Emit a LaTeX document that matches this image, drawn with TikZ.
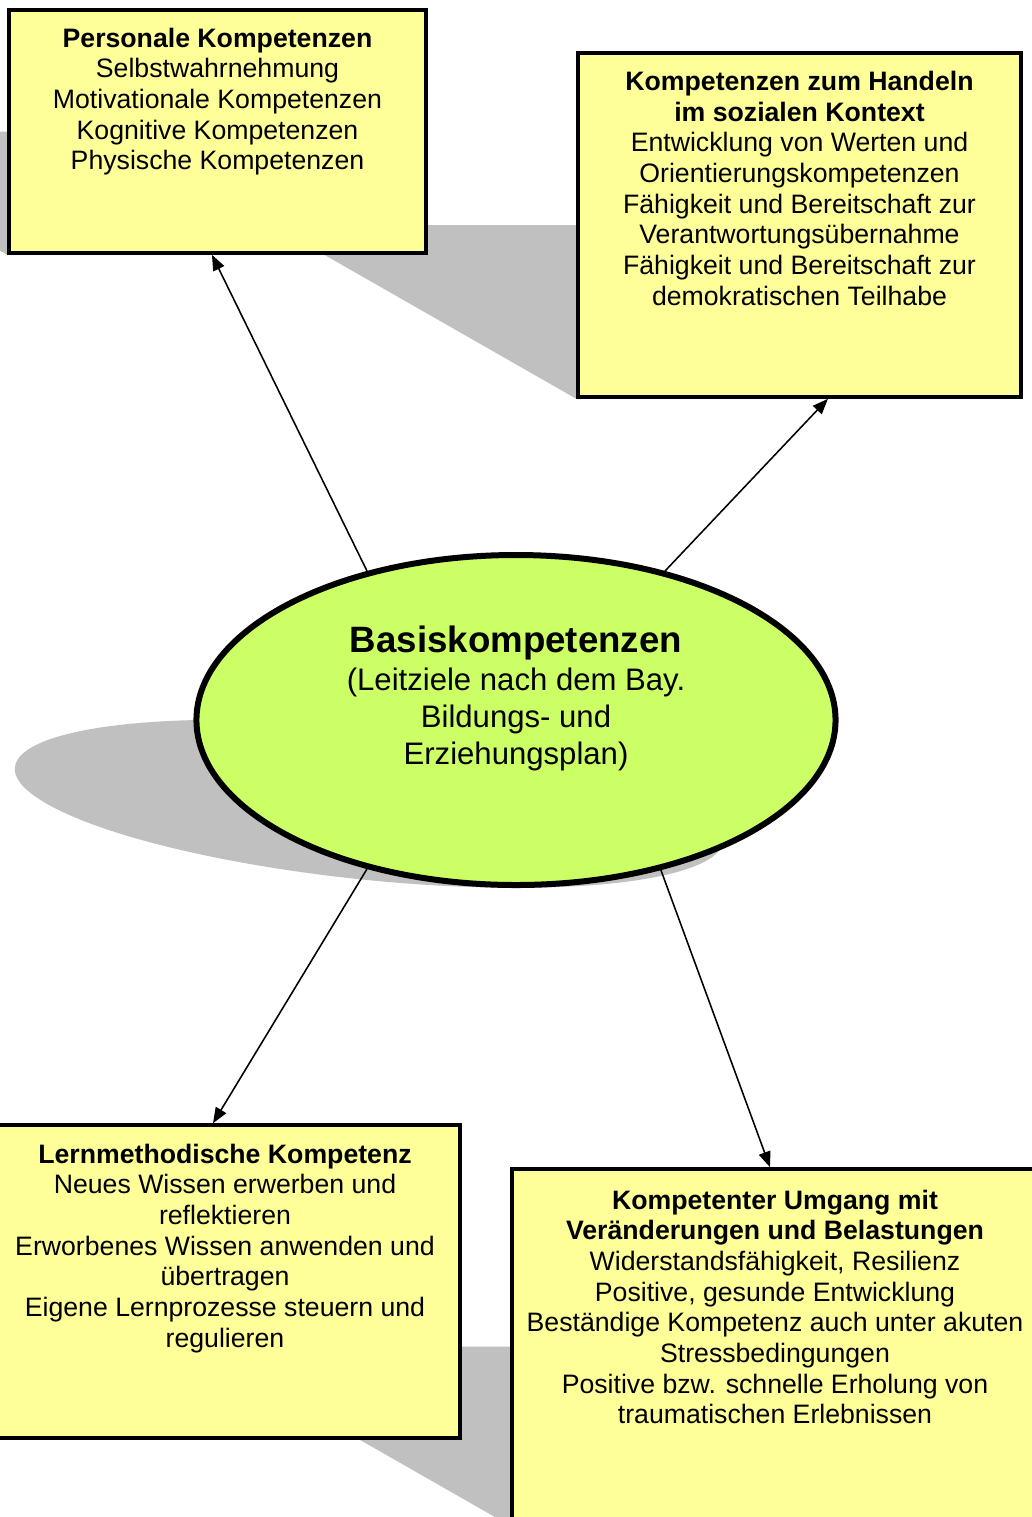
\documentclass[tikz,border=0pt]{standalone}
\usepackage{fontspec}
\setmainfont{Liberation Sans}
\usetikzlibrary{arrows.meta,shapes.geometric}
\definecolor{boxyellow}{HTML}{FFFF99}
\definecolor{ellgreen}{HTML}{CCFF66}
\definecolor{shadowgray}{HTML}{C0C0C0}
\newcommand{\boxtext}[4]{\parbox[c][#2][t]{#1}{\centering\fontsize{12}{13.8}\selectfont\rule{0pt}{#3}#4}}
\begin{document}
\begin{tikzpicture}[x=0.45pt,y=-0.45pt,
  kbox/.style={draw=black,fill=boxyellow,line width=1.6pt,inner sep=0pt},
  ell/.style={ellipse,draw=black,fill=ellgreen,line width=2.7pt,inner sep=0pt,
    minimum width=287.6pt,minimum height=148.5pt},
  arr/.style={line width=0.7pt,-{Triangle[length=7pt,width=5.4pt]}},
  persp/.style={shadowgray,cm={1,0,-0.875,0.5,(-0.875*#1,0.5*#1)}}]
\useasboundingbox (0,0) rectangle (1032,1517);
\fill[white] (0,0) rectangle (1032,1517);
% perspective shadows
\fill[persp=254.75] (7.25,8.25) -- (427.75,8.25) -- (427.75,254.75) -- (7.25,254.75) -- cycle;
\fill[persp=398.75] (576.25,51.25) -- (1022.75,51.25) -- (1022.75,398.75) -- (576.25,398.75) -- cycle;
\fill[persp=1439.75] (-11.75,1123.25) -- (461.75,1123.25) -- (461.75,1439.75) -- (-11.75,1439.75) -- cycle;
\fill[persp=1525.75] (510.25,1167.25) -- (1039.75,1167.25) -- (1039.75,1525.75) -- (510.25,1525.75) -- cycle;
\fill[persp=887.5] (516,720) ellipse [x radius=145.2pt,y radius=75.6pt];
% boxes
\node[kbox] (p4) at (775,1346.5) {\boxtext{236.7pt}{159.75pt}{18pt}{\textbf{Kompetenter Umgang mit}\\\textbf{Veränderungen und Belastungen}\\Widerstandsfähigkeit, Resilienz\\Positive, gesunde Entwicklung\\Beständige Kompetenz auch unter akuten\\Stressbedingungen\\Positive bzw. schnelle Erholung von\\traumatischen Erlebnissen}};
\node[kbox] (p3) at (225,1281.5) {\boxtext{211.5pt}{140.85pt}{17.1pt}{\textbf{Lernmethodische Kompetenz}\\Neues Wissen erwerben und\\reflektieren\\Erworbenes Wissen anwenden und\\übertragen\\Eigene Lernprozesse steuern und\\regulieren}};
\node[kbox] (p2) at (799.5,225) {\boxtext{199.35pt}{154.8pt}{16.8pt}{\textbf{Kompetenzen zum Handeln}\\\textbf{im sozialen Kontext}\\Entwicklung von Werten und\\Orientierungskompetenzen\\Fähigkeit und Bereitschaft zur\\Verantwortungsübernahme\\Fähigkeit und Bereitschaft zur\\demokratischen Teilhabe}};
\node[kbox] (p1) at (217.5,131.5) {\boxtext{187.65pt}{109.35pt}{16.65pt}{\textbf{Personale Kompetenzen}\\Selbstwahrnehmung\\Motivationale Kompetenzen\\Kognitive Kompetenzen\\Physische Kompetenzen}};
% central ellipse
\node[ell] (basis) at (516,720) {};
\node[anchor=base,inner sep=0pt] (basistext) at (516,652) {\parbox[t]{260pt}{\centering{\fontsize{16.5}{18}\selectfont\bfseries Basiskompetenzen\par}\vspace{0.5pt}\fontsize{14}{16.65}\selectfont(Leitziele nach dem Bay.\\Bildungs- und\\Erziehungsplan)}};
% connectors
\draw[arr] (basis.135.2) -- ([xshift=-2.5pt]p1.south);
\draw[arr] (basis.45.2) -- ([xshift=12.8pt]p2.south);
\draw[arr] (basis.225) -- ([xshift=-5.4pt]p3.north);
\draw[arr] (basis.314.4) -- ([xshift=-2.25pt]p4.north);
\end{tikzpicture}
\end{document}
